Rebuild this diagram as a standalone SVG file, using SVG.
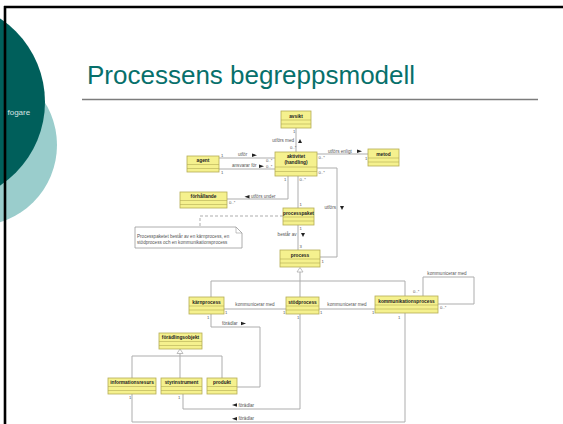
<svg xmlns="http://www.w3.org/2000/svg" width="563" height="424" viewBox="0 0 563 424">
  <style>
    .cls rect { fill: #f5f18e; stroke: #b4ad55; stroke-width: 0.8; }
    .cls line { stroke: #b4ad55; stroke-width: 0.6; }
    .cls text { font-family: "Liberation Sans", Arial, sans-serif; font-size: 4.8px; font-weight: bold; fill: #222; text-anchor: middle; }
    .conn { fill: none; stroke: #adadad; stroke-width: 1; }
    .dash { fill: none; stroke: #adadad; stroke-width: 1; stroke-dasharray: 3 2; }
    .lbl { font-family: "Liberation Sans", Arial, sans-serif; font-size: 4.6px; fill: #555; }
    .mul { font-family: "Liberation Sans", Arial, sans-serif; font-size: 4.2px; fill: #555; }
    .dir { fill: #222; }
    .gen { fill: #fff; stroke: #adadad; stroke-width: 0.8; }
  </style>

  <!-- slide background decoration -->
  <rect x="0" y="0" width="563" height="424" fill="#ffffff"/>
  <circle cx="-24" cy="145" r="81" fill="#9acdcc"/>
  <circle cx="-55" cy="102" r="100" fill="#005f5b"/>
  <text x="7.5" y="115" font-family="Liberation Sans, Arial, sans-serif" font-size="8" fill="#d6e3e2">fogare</text>
  <line x1="5" y1="6" x2="5" y2="424" stroke="#000" stroke-width="2.6"/>
  <line x1="4" y1="7" x2="563" y2="7" stroke="#000" stroke-width="2.6"/>

  <!-- slide title -->
  <text x="87" y="84" font-family="Liberation Sans, Arial, sans-serif" font-size="26" fill="#07706b">Processens begreppsmodell</text>
  <line x1="82" y1="99.5" x2="538" y2="99.5" stroke="#7c7c7c" stroke-width="1.6"/>

  <!-- associations -->
  <g id="connectors">
    <!-- avsikt / aktivitet -->
    <path class="conn" d="M296 128 V152"/>
    <text class="lbl" x="294" y="142" text-anchor="end">utförs med</text>
    <polygon class="dir" points="298,143 302,143 300,139"/>
    <text class="mul" x="293" y="133">1</text>
    <text class="mul" x="290" y="149">0..*</text>

    <!-- agent / aktivitet -->
    <path class="conn" d="M219 158 H275"/>
    <text class="lbl" x="238" y="156">utför</text>
    <polygon class="dir" points="252,153.5 252,157 257,155.2"/>
    <text class="mul" x="221" y="157">1</text>
    <text class="mul" x="266" y="162">0..*</text>
    <path class="conn" d="M219 169 H275"/>
    <text class="lbl" x="232" y="167">ansvarar för</text>
    <polygon class="dir" points="259,164.5 259,168 264,166.2"/>
    <text class="mul" x="221" y="174">1</text>
    <text class="mul" x="266" y="167.5">0..*</text>

    <!-- aktivitet / metod -->
    <path class="conn" d="M317 154 H368"/>
    <text class="lbl" x="328" y="152.5">utförs enligt</text>
    <polygon class="dir" points="357,149.5 357,153 362,151.2"/>
    <text class="mul" x="318.5" y="159">0..*</text>
    <text class="mul" x="365" y="160">1</text>

    <!-- aktivitet / förhållande -->
    <path class="conn" d="M288 176 V199 H227"/>
    <polygon class="dir" points="249.5,195 249.5,198.5 244.5,196.7"/>
    <text class="lbl" x="251" y="198">utförs under</text>
    <text class="mul" x="229" y="204">0..*</text>
    <text class="mul" x="284" y="181">1</text>

    <!-- aktivitet / processpaket -->
    <path class="conn" d="M298 176 V208"/>
    <text class="mul" x="299.5" y="181">0..*</text>
    <text class="mul" x="299.5" y="206">1</text>

    <!-- processpaket note -->
    <path class="dash" d="M283 216 H200 V227"/>

    <!-- processpaket / process -->
    <path class="conn" d="M298 225 V250"/>
    <text class="lbl" x="296.5" y="236" text-anchor="end">består av</text>
    <polygon class="dir" points="301,233 305,233 303,237"/>
    <text class="mul" x="299.5" y="230">1</text>
    <text class="mul" x="299.5" y="248">3</text>

    <!-- aktivitet / process -->
    <path class="conn" d="M317 168 H337 V257 H320"/>
    <text class="lbl" x="336" y="209" text-anchor="end">utförs</text>
    <polygon class="dir" points="340,206 344,206 342,210"/>
    <text class="mul" x="318.5" y="174">0..*</text>
    <text class="mul" x="321.5" y="263">1</text>

    <!-- process specialisations -->
    <path class="conn" d="M300 272 V297 M211 297 V281 H405 V296"/>
    <polygon class="gen" points="300,267.5 297,272 303,272"/>

    <!-- kommunicerar med -->
    <path class="conn" d="M224 309 H286"/>
    <text class="lbl" x="255" y="305.5" text-anchor="middle">kommunicerar med</text>
    <text class="mul" x="225" y="314">1</text>
    <text class="mul" x="283" y="314">1</text>
    <path class="conn" d="M319 309 H375"/>
    <text class="lbl" x="347" y="305.5" text-anchor="middle">kommunicerar med</text>
    <text class="mul" x="320" y="314">1</text>
    <text class="mul" x="372" y="314">1</text>
    <path class="conn" d="M423 296 V277 H474 V304 H438"/>
    <text class="lbl" x="447" y="275" text-anchor="middle">kommunicerar med</text>
    <text class="mul" x="413" y="293">0..*</text>
    <text class="mul" x="440" y="309">0..*</text>

    <!-- förädlar -->
    <path class="conn" d="M211 314 V327 H260 V387 H237"/>
    <text class="lbl" x="222" y="325">förädlar</text>
    <polygon class="dir" points="241,321.7 241,325.2 246,323.4"/>
    <text class="mul" x="207" y="319">1</text>
    <path class="conn" d="M300 314 V409 H183 V394"/>
    <polygon class="dir" points="237,403.3 237,406.8 232,405"/>
    <text class="lbl" x="238.5" y="406.5">förädlar</text>
    <text class="mul" x="297" y="319">1</text>
    <text class="mul" x="178" y="399">1</text>
    <path class="conn" d="M405 313 V422 H132 V394"/>
    <polygon class="dir" points="237,417 237,420.5 232,418.7"/>
    <text class="lbl" x="238.5" y="420.2">förädlar</text>
    <text class="mul" x="398" y="319">1</text>
    <text class="mul" x="129" y="399">1</text>

    <!-- förädlingsobjekt specialisations -->
    <path class="conn" d="M180 353.5 V356 M132 378 V356 H222 V378 M180 356 V378"/>
    <polygon class="gen" points="180,349 177,353.5 183,353.5"/>
  </g>

  <!-- comment note -->
  <g id="note">
    <path d="M135 227 H236 L242 233 V248 H135 Z" fill="#ffffff" stroke="#9a9a9a" stroke-width="0.8"/>
    <path d="M236 227 V233 H242" fill="none" stroke="#9a9a9a" stroke-width="0.6"/>
    <text class="lbl" x="137" y="238" font-size="4.4">Processpaketet består av en kärnprocess, en</text>
    <text class="lbl" x="137" y="243.5" font-size="4.4">stödprocess och en kommunikationsprocess</text>
  </g>

  <!-- classes -->
  <g id="avsikt" class="cls">
    <rect x="281" y="111" width="30" height="17"/>
    <line x1="281" y1="120" x2="311" y2="120"/><line x1="281" y1="124" x2="311" y2="124"/>
    <text x="296" y="117.5">avsikt</text>
  </g>
  <g id="agent" class="cls">
    <rect x="187" y="156" width="32" height="16"/>
    <line x1="187" y1="164.5" x2="219" y2="164.5"/><line x1="187" y1="168.5" x2="219" y2="168.5"/>
    <text x="203" y="162.2">agent</text>
  </g>
  <g id="aktivitet" class="cls">
    <rect x="275" y="152" width="42" height="24"/>
    <line x1="275" y1="167" x2="317" y2="167"/><line x1="275" y1="171.5" x2="317" y2="171.5"/>
    <text x="296" y="158">aktivitet</text>
    <text x="296" y="164">(handling)</text>
  </g>
  <g id="metod" class="cls">
    <rect x="368" y="149" width="31" height="17"/>
    <line x1="368" y1="158" x2="399" y2="158"/><line x1="368" y1="162" x2="399" y2="162"/>
    <text x="383.5" y="155.5">metod</text>
  </g>
  <g id="forhallande" class="cls">
    <rect x="180" y="192" width="47" height="16"/>
    <line x1="180" y1="200.5" x2="227" y2="200.5"/><line x1="180" y1="204.5" x2="227" y2="204.5"/>
    <text x="203.5" y="198.2">förhållande</text>
  </g>
  <g id="processpaket" class="cls">
    <rect x="283" y="208" width="31" height="17"/>
    <line x1="283" y1="217" x2="314" y2="217"/><line x1="283" y1="221" x2="314" y2="221"/>
    <text x="298.5" y="214.5">processpaket</text>
  </g>
  <g id="process" class="cls">
    <rect x="280" y="250" width="40" height="17"/>
    <line x1="280" y1="259" x2="320" y2="259"/><line x1="280" y1="263" x2="320" y2="263"/>
    <text x="300" y="256.5">process</text>
  </g>
  <g id="karnprocess" class="cls">
    <rect x="189" y="297" width="35" height="17"/>
    <line x1="189" y1="306" x2="224" y2="306"/><line x1="189" y1="310" x2="224" y2="310"/>
    <text x="206.5" y="303.5">kärnprocess</text>
  </g>
  <g id="stodprocess" class="cls">
    <rect x="286" y="297" width="33" height="17"/>
    <line x1="286" y1="306" x2="319" y2="306"/><line x1="286" y1="310" x2="319" y2="310"/>
    <text x="302.5" y="303.5">stödprocess</text>
  </g>
  <g id="kommunikationsprocess" class="cls">
    <rect x="375" y="296" width="63" height="17"/>
    <line x1="375" y1="305" x2="438" y2="305"/><line x1="375" y1="309" x2="438" y2="309"/>
    <text x="406.5" y="302.5">kommunikationsprocess</text>
  </g>
  <g id="foradlingsobjekt" class="cls">
    <rect x="159" y="333" width="43" height="16"/>
    <line x1="159" y1="341.5" x2="202" y2="341.5"/><line x1="159" y1="345.5" x2="202" y2="345.5"/>
    <text x="180.5" y="339.2">förädlingsobjekt</text>
  </g>
  <g id="informationsresurs" class="cls">
    <rect x="108" y="378" width="48" height="16"/>
    <line x1="108" y1="386.5" x2="156" y2="386.5"/><line x1="108" y1="390.5" x2="156" y2="390.5"/>
    <text x="132" y="384.2">informationsresurs</text>
  </g>
  <g id="styrinstrument" class="cls">
    <rect x="161" y="378" width="41" height="16"/>
    <line x1="161" y1="386.5" x2="202" y2="386.5"/><line x1="161" y1="390.5" x2="202" y2="390.5"/>
    <text x="181.5" y="384.2">styrinstrument</text>
  </g>
  <g id="produkt" class="cls">
    <rect x="207" y="378" width="30" height="16"/>
    <line x1="207" y1="386.5" x2="237" y2="386.5"/><line x1="207" y1="390.5" x2="237" y2="390.5"/>
    <text x="222" y="384.2">produkt</text>
  </g>
</svg>
